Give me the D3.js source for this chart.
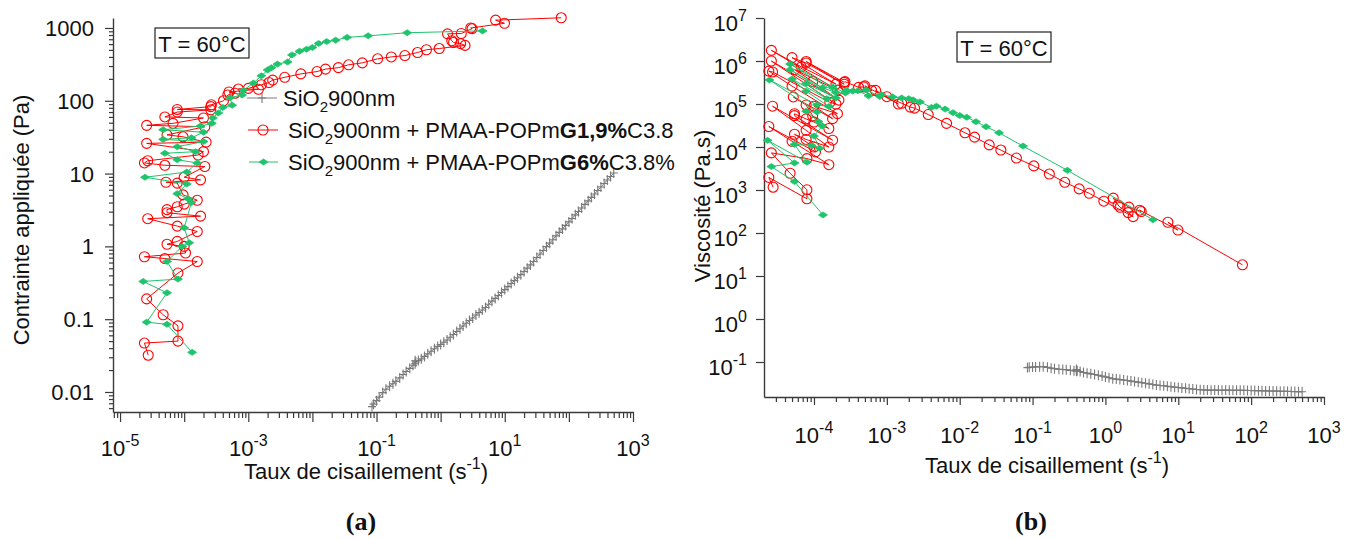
<!DOCTYPE html>
<html><head><meta charset="utf-8">
<script src="https://cdn.jsdelivr.net/npm/d3@7"></script>
<style>
body{margin:0;background:#fff;}
svg{display:block;font-family:"Liberation Sans",Arial,sans-serif;}
</style></head><body>
<svg id="chart" width="1358" height="539"></svg>
<script>
// ---------------- DATA ----------------
// SiO2 900nm (grey)
const greyRate = [0.085,0.09,0.1,0.11,0.125,0.14,0.16,0.18,0.2,0.23,0.26,0.29,0.33,0.37,0.4,0.4,0.41,0.45,0.5,0.56,0.63,0.71,0.8,0.9,1.0,1.12,1.26,1.41,1.58,1.78,2.0,2.24,2.51,2.82,3.16,3.55,3.98,4.47,5.01,5.62,6.31,7.08,7.94,8.91,10,11.2,12.6,14.1,15.8,17.8,20,22.4,25.1,28.2,31.6,35.5,39.8,44.7,50.1,56.2,63.1,70.8,79.4,89.1,100,112,126,141,158,178,200,224,251,282,316,355,398,447,501];
const greyStress = [0.0063,0.0068,0.0076,0.0085,0.0098,0.0109,0.012,0.013,0.014,0.0156,0.0174,0.0191,0.0211,0.0233,0.0268,0.0244,0.0258,0.027,0.0285,0.0308,0.0334,0.0362,0.0392,0.0423,0.045,0.0482,0.0517,0.0564,0.0616,0.0676,0.074,0.0806,0.0879,0.0959,0.104,0.114,0.123,0.134,0.145,0.160,0.177,0.193,0.211,0.232,0.255,0.280,0.309,0.338,0.371,0.409,0.452,0.502,0.557,0.620,0.702,0.785,0.876,0.992,1.107,1.236,1.395,1.558,1.739,1.942,2.17,2.419,2.709,3.017,3.365,3.774,4.22,4.704,5.246,5.866,6.541,7.313,8.159,9.119,10.17];
const greyVisc = [0.074,0.075,0.076,0.077,0.078,0.078,0.075,0.072,0.070,0.068,0.067,0.066,0.064,0.063,0.067,0.061,0.063,0.060,0.057,0.055,0.053,0.051,0.049,0.047,0.045,0.043,0.041,0.040,0.039,0.038,0.037,0.036,0.035,0.034,0.033,0.032,0.031,0.030,0.029,0.0285,0.028,0.0273,0.0266,0.026,0.0255,0.025,0.0245,0.024,0.0235,0.023,0.0226,0.0224,0.0222,0.022,0.0222,0.0221,0.022,0.0222,0.0221,0.022,0.0221,0.022,0.0219,0.0218,0.0217,0.0216,0.0215,0.0214,0.0213,0.0212,0.0211,0.021,0.0209,0.0208,0.0207,0.0206,0.0205,0.0204,0.0203];

// SiO2 900nm + PMAA-POPm G1,9% C3.8 (red)
const redRate = [2.75e-5,2.4e-5,8.0e-5,8.0e-5,4.7e-5,2.6e-5,8.0e-5,1.6e-4,5.0e-5,2.4e-5,1.05e-4,1.0e-4,5.4e-5,7.8e-5,1.6e-4,7.8e-5,2.7e-5,1.8e-4,5.4e-5,5.4e-5,7.8e-5,1.0e-4,1.6e-4,9.6e-5,7.8e-5,5.2e-5,1.8e-4,1.0e-4,2.1e-4,5.0e-5,2.4e-5,2.7e-5,1.65e-4,2.0e-4,2.6e-5,2.2e-4,9.6e-5,5.4e-5,2.1e-4,2.6e-5,6.7e-5,2.0e-4,5.0e-5,7.8e-5,2.6e-4,7.8e-5,2.6e-4,2.66e-4,4.1e-4,4.8e-4,6.2e-4,5.0e-4,1.44e-3,7.0e-4,1.0e-3,1.6e-3,2.1e-3,2.4e-3,3.7e-3,6.6e-3,1.18e-2,1.6e-2,2.54e-2,3.67e-2,6.0e-2,0.104,0.17,0.277,0.436,0.6,0.95,2.4,2.05,1.59,1.49,1.28,2.1,3.1,2.95,9.9,7.2,76];
const redStress = [0.032,0.047,0.05,0.081,0.115,0.19,0.43,0.62,0.68,0.72,0.81,1.0,1.07,1.17,1.6,1.9,2.4,2.6,2.9,3.2,3.5,3.8,4.3,5.1,7.4,7.6,8.2,8.9,12.5,13,14,15,18,20,26,27,32,34,44,46,49,58,60,70,75,76,83,88,100,120,127,132,144,145,148,166,178,192,210,234,252,272,285,312,332,377,400,418,460,502,522,576,610,632,667,830,840,980,1000,1160,1280,1380];
const redVisc = [1160,1960,625,1010,2450,7300,5380,3880,13600,30000,7710,10000,19800,15000,10000,24400,88900,14400,53700,59300,44900,38000,26900,53100,94900,146000,45600,89000,59500,260000,583000,556000,109000,100000,1000000,123000,333000,630000,210000,1770000,731000,290000,1200000,897000,288000,974000,319000,331000,244000,250000,205000,264000,100000,207000,148000,104000,84800,80000,56800,35500,21400,17000,11200,8500,5530,3630,2350,1510,1060,837,549,240,298,397,448,648,400,316,339,117,178,18.2];

// SiO2 900nm + PMAA-POPm G6% C3.8% (green)
const greenRate = [1.33e-4,5.4e-5,2.6e-5,5.4e-5,2.3e-5,8.0e-5,5.4e-5,9.3e-5,1.2e-4,1.0e-4,1.3e-4,1.15e-4,7.8e-5,1.1e-4,2.45e-5,1.1e-4,1.6e-4,7.8e-5,5.0e-5,1.5e-4,7.8e-5,2.0e-4,4.7e-5,1.3e-4,2.0e-4,4.7e-5,1.8e-4,2.7e-4,2.8e-4,3.4e-4,4.0e-4,5.6e-4,5.2e-4,8.0e-4,8.4e-4,1.2e-3,1.6e-3,2.0e-3,2.3e-3,2.85e-3,4.1e-3,4.8e-3,6.3e-3,8.1e-3,1.0e-2,1.25e-2,1.67e-2,2.3e-2,3.47e-2,7.4e-2,0.3,4.5];
const greenStress = [0.035,0.085,0.091,0.23,0.33,0.355,0.62,1.0,1.12,1.8,4.0,4.5,5.3,7.2,8.9,10.5,14,15.5,19,20,23.4,27.5,29.5,31,37,40,45,49,58,68,81,87,110,120,140,175,220,265,285,319,341,427,479,510,540,613,650,680,742,780,860,912];
const greenVisc = [263,1570,3500,4260,14300,4440,11500,10800,9330,18000,30800,39100,67900,65500,363000,95500,87500,199000,380000,133000,300000,138000,628000,238000,185000,851000,250000,181000,207000,200000,203000,155000,212000,150000,167000,146000,138000,133000,124000,112000,83200,89000,76000,63000,54000,49000,38900,29600,21400,10500,2870,203];

// Ticks and labels
const stressTicks = [0.01,0.1,1,10,100,1000];
const stressTickLabels = ["0.01","0.1","1","10","100","1000"];
const rateTicksA = [1e-5,1e-4,1e-3,1e-2,1e-1,1,10,100,1000];
const rateLabelExpA = ["-5","","-3","","-1","","1","","3"];
const rateTicksB = [1e-4,1e-3,1e-2,1e-1,1,10,100,1000];
const rateLabelExpB = ["-4","-3","-2","-1","0","1","2","3"];
const viscTicks = [1e-1,1,10,100,1e3,1e4,1e5,1e6,1e7];
const viscLabelExp = ["-1","0","1","2","3","4","5","6","7"];

const xTitleMain = "Taux de cisaillement (s";
const xTitleSup = "-1";
const yTitleA = "Contrainte appliquée (Pa)";
const yTitleB = "Viscosité (Pa.s)";
const tempLabel = "T = 60°C";
const legendParts = [
  [{t:"SiO"},{t:"2",sub:1},{t:"900nm"}],
  [{t:"SiO"},{t:"2",sub:1},{t:"900nm + PMAA-POPm"},{t:"G1,9%",b:1},{t:"C3.8"}],
  [{t:"SiO"},{t:"2",sub:1},{t:"900nm + PMAA-POPm"},{t:"G6%",b:1},{t:"C3.8%"}]
];
const captions = ["(a)","(b)"];

// ---------------- STYLE ----------------
const GREY = "#7a7a7a", RED = "#ff0000", GREEN = "#1ec46c", AXIS = "#3a3a3a";

const svg = d3.select("#chart");
svg.append("rect").attr("width",1358).attr("height",539).attr("fill","#fff");

const xA = d3.scaleLog().domain([Math.pow(10,-5.11), 1e3]).range([113, 633]);
const yA = d3.scaleLog().domain([Math.pow(10,-2.275), Math.pow(10,3.137)]).range([412, 18]);
const xB = d3.scaleLog().domain([Math.pow(10,-4.686), 1e3]).range([764, 1324]);
const yB = d3.scaleLog().domain([Math.pow(10,-1.814), 1e7]).range([397, 18]);

function minorTicks(scale){
  const [a,b] = scale.domain();
  const out=[];
  for(let e=Math.floor(Math.log10(a)); e<=Math.ceil(Math.log10(b)); e++){
    for(let k=2;k<=9;k++){ const v=k*Math.pow(10,e); if(v>=a*1.0001 && v<=b) out.push(v);}
  }
  return out;
}
function styleAxis(g, keepDomain){
  g.selectAll(".tick line").attr("stroke",AXIS).attr("stroke-width",1.2);
  g.selectAll(".tick text").remove();
  if(keepDomain) g.select(".domain").attr("stroke",AXIS).attr("stroke-width",1.4);
  else g.select(".domain").remove();
}
function addAxis(axisFn, scale, values, size, transform, keepDomain){
  const g = svg.append("g").attr("transform",transform);
  g.call(axisFn(scale).tickValues(values).tickSize(size).tickSizeOuter(0).tickFormat(""));
  styleAxis(g, keepDomain);
  return g;
}
function powLabel(x, y, exp, anchor){
  const t = svg.append("text").attr("x",x).attr("y",y).attr("text-anchor",anchor)
    .attr("font-size",22).attr("fill","#111");
  t.append("tspan").text("10");
  t.append("tspan").attr("font-size",16).attr("dy",-10).text(exp);
  return t;
}

// ---------- Panel A axes ----------
addAxis(d3.axisBottom, xA, minorTicks(xA), 6, "translate(0,412)", false);
addAxis(d3.axisBottom, xA, rateTicksA, 10, "translate(0,412)", true);
addAxis(d3.axisLeft, yA, minorTicks(yA), 4, "translate(113,0)", false);
addAxis(d3.axisLeft, yA, stressTicks, 8, "translate(113,0)", true);
rateTicksA.forEach((v,i)=>{ if(rateLabelExpA[i]!=="") powLabel(xA(v), 456, rateLabelExpA[i], "middle"); });
stressTicks.forEach((v,i)=>{
  svg.append("text").attr("x",94).attr("y",yA(v)+8).attr("text-anchor","end")
    .attr("font-size",22).attr("fill","#111").text(stressTickLabels[i]);
});

// ---------- Panel B axes ----------
addAxis(d3.axisBottom, xB, minorTicks(xB), 5, "translate(0,397)", false);
addAxis(d3.axisBottom, xB, rateTicksB, 8, "translate(0,397)", true);
addAxis(d3.axisLeft, yB, viscTicks, 8, "translate(764,0)", true);
rateTicksB.forEach((v,i)=> powLabel(xB(v), 443, rateLabelExpB[i], "middle"));
viscTicks.forEach((v,i)=> powLabel(747, yB(v)+13, viscLabelExp[i], "end"));

// ---------- Titles ----------
function xTitle(x,y){
  const t = svg.append("text").attr("x",x).attr("y",y).attr("text-anchor","middle").attr("font-size",22).attr("fill","#111");
  t.append("tspan").text(xTitleMain);
  t.append("tspan").attr("font-size",16).attr("dy",-10).text(xTitleSup);
  t.append("tspan").attr("dy",10).text(")");
}
xTitle(366, 479);
xTitle(1047, 473);
svg.append("text").attr("transform","translate(29,220) rotate(-90)").attr("text-anchor","middle")
  .attr("font-size",22).attr("fill","#111").text(yTitleA);
svg.append("text").attr("transform","translate(710,206) rotate(-90)").attr("text-anchor","middle")
  .attr("font-size",22).attr("fill","#111").text(yTitleB);

// T boxes
function tBox(x,y,w,h){
  svg.append("rect").attr("x",x).attr("y",y).attr("width",w).attr("height",h)
    .attr("fill","#fff").attr("stroke","#222").attr("stroke-width",1.2);
  svg.append("text").attr("x",x+w/2).attr("y",y+h-6).attr("text-anchor","middle")
    .attr("font-size",22).attr("fill","#111").text(tempLabel);
}
tBox(155,28,94,30);
tBox(957,32,94,30);

// ---------- Markers & series ----------
function marker(g, kind, cx, cy, color){
  if(kind==="circle"){
    g.append("circle").attr("cx",cx).attr("cy",cy).attr("r",5).attr("fill","none").attr("stroke",color).attr("stroke-width",1.1);
  } else if(kind==="plus"){
    g.append("path").attr("d",`M${cx-4},${cy}H${cx+4}M${cx},${cy-5}V${cy+5}`).attr("stroke",color).attr("stroke-width",1.1).attr("fill","none");
  } else {
    g.append("path").attr("d",`M${cx-4.5},${cy}L${cx},${cy-3}L${cx+4.5},${cy}L${cx},${cy+3}Z`).attr("fill",color).attr("stroke",color).attr("stroke-width",0.8);
  }
}
function drawSeries(xs, ys, sx, sy, color, kind){
  const g = svg.append("g");
  const pts = xs.map((x,i)=>[sx(x), sy(ys[i])]);
  g.append("path").attr("d", d3.line()(pts)).attr("fill","none").attr("stroke",color).attr("stroke-width",1);
  pts.forEach(p=>marker(g, kind, p[0], p[1], color));
}
drawSeries(greyRate, greyStress, xA, yA, GREY, "plus");
drawSeries(redRate, redStress, xA, yA, RED, "circle");
drawSeries(greenRate, greenStress, xA, yA, GREEN, "diamond");
drawSeries(greyRate, greyVisc, xB, yB, GREY, "plus");
drawSeries(redRate, redVisc, xB, yB, RED, "circle");
drawSeries(greenRate, greenVisc, xB, yB, GREEN, "diamond");

// ---------- Legend ----------
const legendStyle = [
  {color:GREY, kind:"plus", x0:247, x1:277, y:98, tx:283},
  {color:RED, kind:"circle", x0:248, x1:278, y:130, tx:288},
  {color:GREEN, kind:"diamond", x0:249, x1:278, y:162, tx:288}
];
legendParts.forEach((parts,i)=>{
  const s = legendStyle[i];
  const g = svg.append("g");
  g.append("line").attr("x1",s.x0).attr("x2",s.x1).attr("y1",s.y).attr("y2",s.y).attr("stroke",s.color).attr("stroke-width",1);
  marker(g, s.kind, (s.x0+s.x1)/2, s.y, s.color);
  const t = g.append("text").attr("x",s.tx).attr("y",s.y+8).attr("font-size",22).attr("fill","#111");
  let shifted = false;
  parts.forEach(p=>{
    const ts = t.append("tspan").text(p.t);
    if(p.sub){ ts.attr("font-size",15).attr("dy",6); shifted = true; }
    else if(shifted){ ts.attr("dy",-6); shifted = false; }
    if(p.b) ts.attr("font-weight","bold");
  });
});

// ---------- Captions ----------
svg.append("text").attr("x",361).attr("y",530).attr("text-anchor","middle").attr("font-family","'Liberation Serif',serif")
  .attr("font-weight","bold").attr("font-size",26).attr("fill","#111").text(captions[0]);
svg.append("text").attr("x",1031).attr("y",530).attr("text-anchor","middle").attr("font-family","'Liberation Serif',serif")
  .attr("font-weight","bold").attr("font-size",26).attr("fill","#111").text(captions[1]);
</script>
</body></html>
